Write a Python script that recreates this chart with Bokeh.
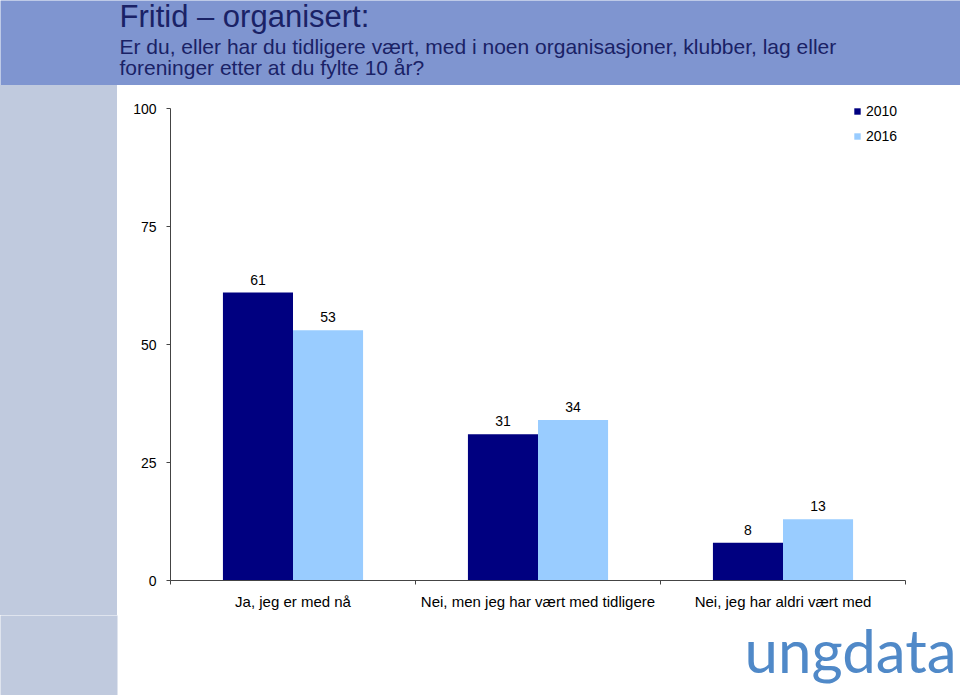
from bokeh.plotting import figure
from bokeh.layouts import column, row
from bokeh.models import Range1d, FixedTicker, Legend, LegendItem, ColumnDataSource, Div
from bokeh.core.properties import value
from bokeh.embed import file_html
from bokeh.resources import INLINE

# ---- data ----
categories = ["Ja, jeg er med nå", "Nei, men jeg har vært med tidligere", "Nei, jeg har aldri vært med"]
series_names = ["2010", "2016"]
values_2010 = [61, 31, 8]
values_2016 = [53, 34, 13]
y_ticks = [0, 25, 50, 75, 100]

title_text = "Fritid – organisert:"
subtitle_lines = ["Er du, eller har du tidligere vært, med i noen organisasjoner, klubber, lag eller",
                  "foreninger etter at du fylte 10 år?"]
logo_text = "ungdata"

FONT = "Liberation Sans"
HEADER_BG = "#7F95D0"
SIDE_BG = "#C0CADE"
TXT_DARK = "#1A2266"
C2010 = "#000080"
C2016 = "#99CCFF"

def blank(fig):
    fig.xaxis.visible = False
    fig.yaxis.visible = False
    fig.xgrid.visible = False
    fig.ygrid.visible = False
    fig.outline_line_color = None
    return fig

# ---- header ----
header = figure(width=960, height=85, x_range=Range1d(0, 960), y_range=Range1d(85, 0),
                output_backend="svg", toolbar_location=None, min_border=0,
                background_fill_color=HEADER_BG, border_fill_color=HEADER_BG)
blank(header)
header.text(x=[119], y=[15.5], text=[title_text], text_font=value(FONT), text_font_size="31px",
            text_color=TXT_DARK, text_baseline="middle", text_align="left")
header.text(x=[119, 119], y=[45.5, 66.5], text=subtitle_lines, text_font=value(FONT),
            text_font_size="21px", text_color=TXT_DARK, text_baseline="middle", text_align="left")

# ---- sidebar (plain coloured block) ----
side = Div(text="", width=117, height=530, margin=0,
           styles={"background-color": SIDE_BG})

# ---- main chart ----
xs = [i + 0.5 for i in range(len(categories))]
off = 0.143
bw = 0.286
src = ColumnDataSource(dict(
    x10=[x - off for x in xs], x16=[x + off for x in xs],
    v10=values_2010, v16=values_2016,
    t10=[str(v) for v in values_2010], t16=[str(v) for v in values_2016],
))

p = figure(width=843, height=530, x_range=Range1d(0, len(categories)), y_range=Range1d(0, 102.97),
           output_backend="svg", toolbar_location=None,
           min_border_left=53, min_border_right=55, min_border_top=9, min_border_bottom=35,
           background_fill_color="white", border_fill_color="white")
p.outline_line_color = None
p.xgrid.visible = False
p.ygrid.visible = False

r10 = p.vbar(x="x10", top="v10", width=bw, bottom=0, source=src, fill_color=C2010, line_color=None)
r16 = p.vbar(x="x16", top="v16", width=bw, bottom=0, source=src, fill_color=C2016, line_color=None)

for xcol, tcol, vcol in (("x10", "t10", "v10"), ("x16", "t16", "v16")):
    p.text(x=xcol, y=vcol, text=tcol, source=src, y_offset=-8, text_align="center",
           text_baseline="bottom", text_font=value(FONT), text_font_size="14px", text_color="black")

# y axis
ya = p.yaxis[0]
ya.ticker = FixedTicker(ticks=y_ticks, minor_ticks=[])
ya.bounds = (0, 100)
ya.axis_line_color = "#444444"
ya.major_tick_line_color = "#444444"
ya.major_tick_in = 0
ya.major_tick_out = 4
ya.minor_tick_line_color = None
ya.major_label_text_font = FONT
ya.major_label_text_font_size = "14px"
ya.major_label_text_color = "black"
ya.major_label_standoff = 10

# x axis: labels at centers, ticks at category boundaries
xa = p.xaxis[0]
xa.ticker = FixedTicker(ticks=xs, minor_ticks=list(range(len(categories) + 1)))
xa.major_label_overrides = {x: c for x, c in zip(xs, categories)}
xa.axis_line_color = "#444444"
xa.major_tick_line_color = None
xa.minor_tick_line_color = "#444444"
xa.minor_tick_in = 0
xa.minor_tick_out = 4
xa.major_label_text_font = FONT
xa.major_label_text_font_size = "15px"
xa.major_label_text_color = "black"
xa.major_label_standoff = 6

legend = Legend(items=[LegendItem(label=series_names[0], renderers=[r10]),
                       LegendItem(label=series_names[1], renderers=[r16])],
                location=(683, 434), orientation="vertical",
                glyph_width=8, glyph_height=8, label_height=20, label_standoff=5, spacing=5,
                padding=0, margin=0, border_line_color=None, background_fill_alpha=0,
                label_text_font=FONT, label_text_font_size="14px", label_text_color="black")
p.add_layout(legend, "center")

# ---- footer with logo (full width, sidebar colour continued on the left) ----
footer = figure(width=960, height=80, x_range=Range1d(0, 960), y_range=Range1d(80, 0),
                output_backend="svg", toolbar_location=None, min_border=0,
                background_fill_color="white", border_fill_color="white")
blank(footer)
footer.quad(left=[-10], right=[117], top=[-10], bottom=[90], fill_color=SIDE_BG, line_color=None)
footer.text(x=[744], y=[34], text=[logo_text], text_font=value("Lato"), text_font_size="60px",
            text_color="#5089C8", text_baseline="middle", text_align="left")

layout = column(header, row(side, p, spacing=0), footer, spacing=0)

open("out.html", "w").write(file_html(layout, INLINE))
